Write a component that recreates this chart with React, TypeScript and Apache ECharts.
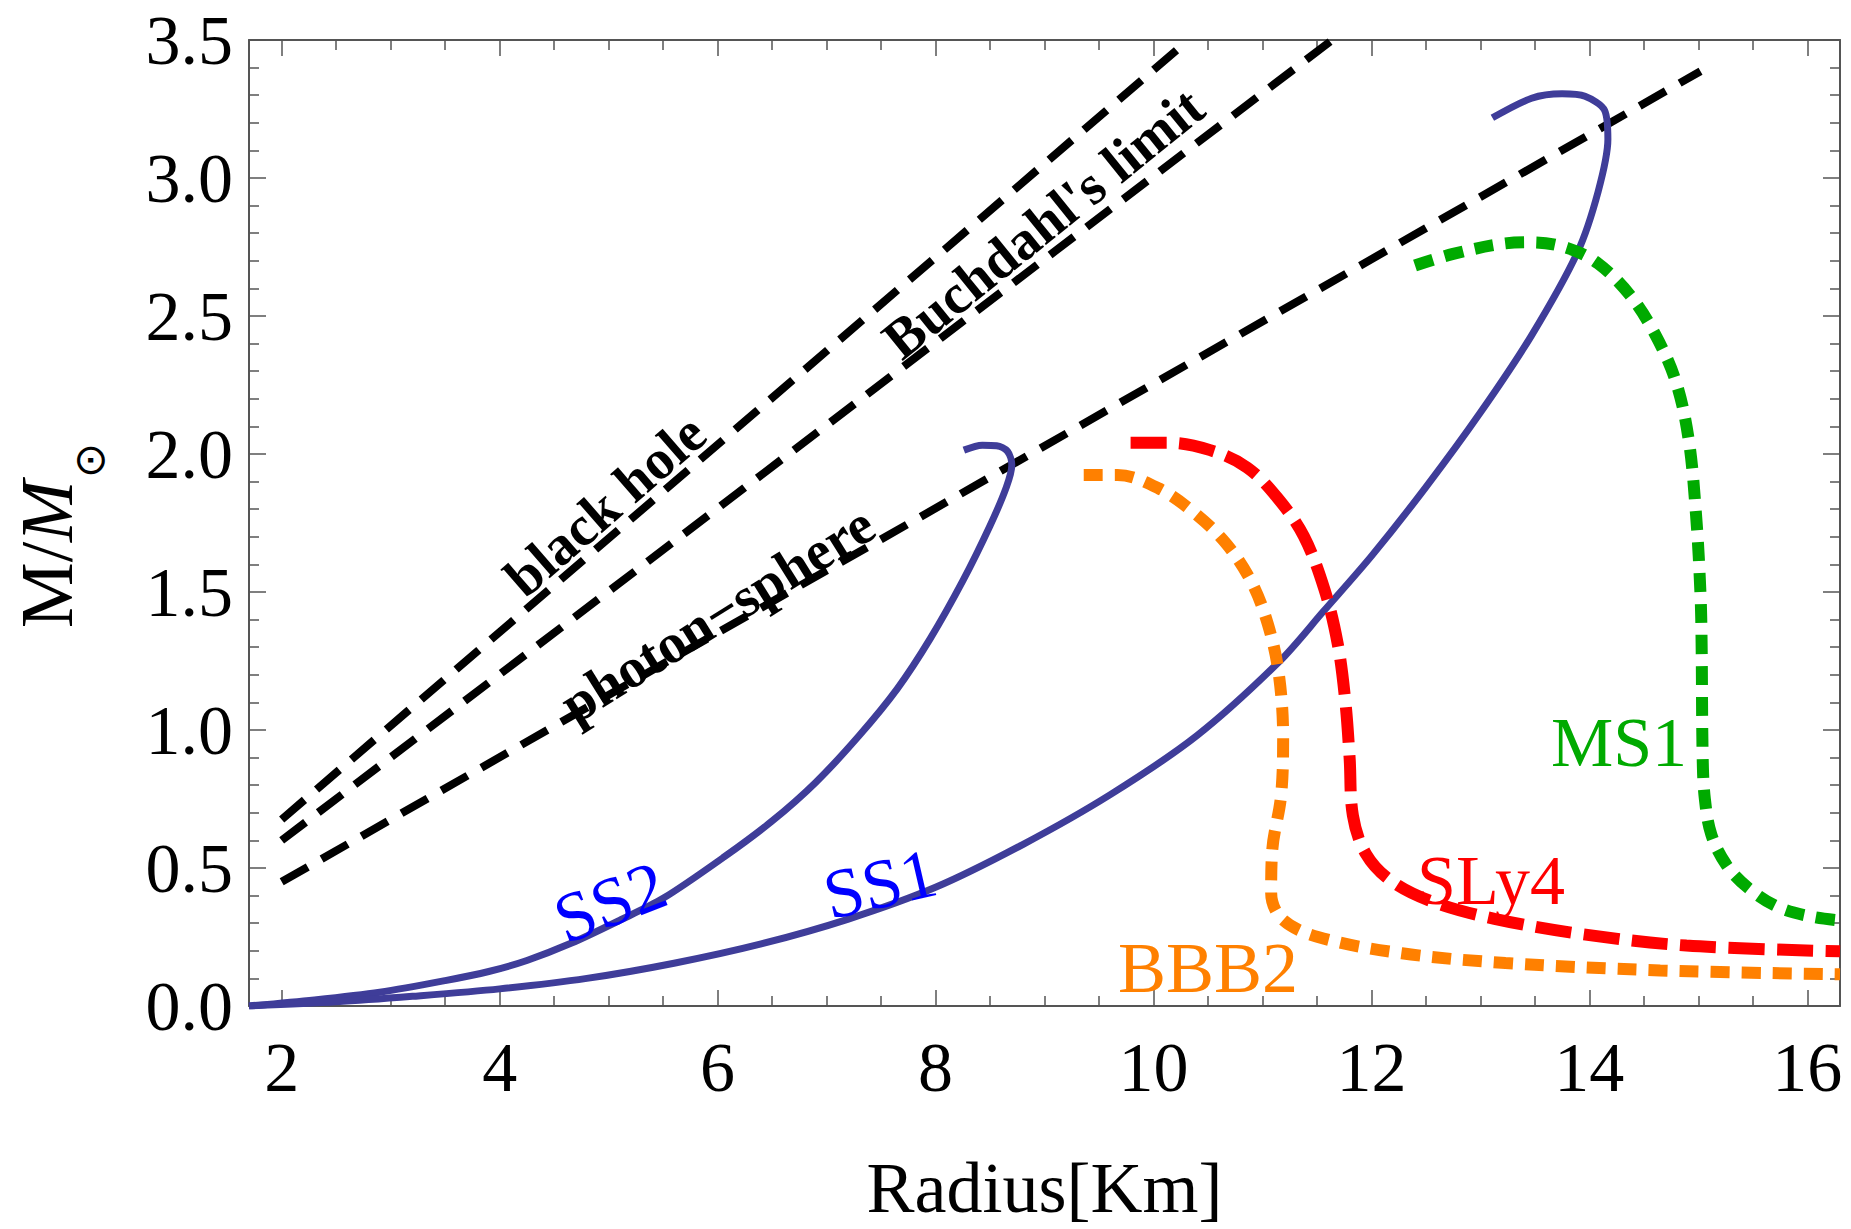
import React, { useEffect, useRef } from "react";
import * as echarts from "echarts";

// ---- axis ranges and ticks ----
const X_MIN = 1.7;
const X_MAX = 16.3;
const Y_MIN = 0;
const Y_MAX = 3.5;
const xMajorTicks = [2, 4, 6, 8, 10, 12, 14, 16];
const xMinorTicks = [2.5, 3, 3.5, 4.5, 5, 5.5, 6.5, 7, 7.5, 8.5, 9, 9.5, 10.5, 11, 11.5, 12.5, 13, 13.5, 14.5, 15, 15.5];
const yMajorTicks = [0, 0.5, 1, 1.5, 2, 2.5, 3, 3.5];
const yMinorTicks = [
  0.1, 0.2, 0.3, 0.4, 0.6, 0.7, 0.8, 0.9, 1.1, 1.2, 1.3, 1.4, 1.6, 1.7, 1.8, 1.9,
  2.1, 2.2, 2.3, 2.4, 2.6, 2.7, 2.8, 2.9, 3.1, 3.2, 3.3, 3.4,
];

// ---- limit lines (radius km, mass Msun) ----
const blackHole = [[2.0, 0.676], [10.32, 3.5]];
const buchdahl = [[2.0, 0.6], [11.64, 3.5]];
const photonSphere = [[2.0, 0.45], [15.02, 3.387]];

// ---- mass-radius curves ----
const ss2 = [
  [1.7, 0.0], [2.3, 0.022], [2.9, 0.05], [3.5, 0.092], [3.9, 0.125], [4.25, 0.165],
  [4.66, 0.228], [5.1, 0.31], [5.5, 0.39], [6.06, 0.54], [6.5, 0.67], [6.9, 0.81],
  [7.3, 0.98], [7.65, 1.15], [7.95, 1.33], [8.25, 1.54], [8.5, 1.74], [8.65, 1.88],
  [8.7, 1.96], [8.66, 2.01], [8.56, 2.03], [8.43, 2.032], [8.26, 2.014],
];
const ss1 = [
  [1.7, 0.0], [2.5, 0.015], [3.2, 0.035], [4.0, 0.062], [4.8, 0.1], [5.6, 0.155],
  [6.4, 0.225], [7.2, 0.315], [8.0, 0.43], [8.8, 0.585], [9.6, 0.765], [10.4, 0.98],
  [11.16, 1.25], [11.56, 1.43], [12.0, 1.63], [12.5, 1.88], [13.0, 2.15], [13.47, 2.43],
  [13.89, 2.73], [14.08, 2.95], [14.17, 3.14], [14.14, 3.245], [13.96, 3.296], [13.75, 3.305],
  [13.47, 3.289], [13.11, 3.218],
];
const sly4 = [
  [9.79, 2.041], [10.14, 2.041], [10.52, 2.014], [10.86, 1.951], [11.14, 1.84], [11.38, 1.702],
  [11.57, 1.508], [11.69, 1.314], [11.76, 1.106], [11.8, 0.898], [11.83, 0.69], [11.95, 0.551],
  [12.18, 0.454], [12.56, 0.378], [13.13, 0.316], [13.94, 0.26], [14.89, 0.219], [16.3, 0.198],
];
const bbb2 = [
  [9.36, 1.924], [9.67, 1.924], [10.05, 1.875], [10.38, 1.785], [10.67, 1.674], [10.9, 1.536],
  [11.05, 1.383], [11.15, 1.203], [11.19, 0.967], [11.17, 0.759], [11.09, 0.565], [11.08, 0.41],
  [11.18, 0.315], [11.51, 0.25], [12.28, 0.191], [13.23, 0.156], [14.65, 0.129], [16.3, 0.115],
];
const ms1 = [
  [12.4, 2.683], [12.75, 2.725], [13.23, 2.763], [13.47, 2.767], [13.8, 2.746], [14.08, 2.69],
  [14.37, 2.577], [14.6, 2.436], [14.79, 2.267], [14.91, 2.056], [14.98, 1.774], [15.02, 1.49],
  [15.03, 1.314], [15.04, 0.898], [15.06, 0.75], [15.12, 0.62], [15.26, 0.51], [15.46, 0.427],
  [15.74, 0.357], [16.05, 0.323], [16.3, 0.31],
];

const SERIF = '"Liberation Serif", "Times New Roman", serif';
const FRAME = "#555555";

function xAxisDef(position: "bottom" | "top", ticks: number[], len: number, main: boolean, labels: boolean) {
  return {
    type: "value",
    position,
    min: X_MIN,
    max: X_MAX,
    name: main && labels ? "Radius[Km]" : "",
    nameLocation: "middle",
    nameGap: 146,
    nameTextStyle: { fontFamily: SERIF, fontSize: 72, color: "#000", lineHeight: 72 },
    axisLine: { show: main, onZero: false, lineStyle: { color: FRAME, width: 2 } },
    axisTick: { show: true, inside: true, length: len, customValues: ticks, lineStyle: { color: FRAME, width: 1.5 } },
    axisLabel: {
      show: labels,
      customValues: ticks,
      margin: 26,
      fontFamily: SERIF,
      fontSize: 70,
      lineHeight: 70,
      color: "#000",
      formatter: (v: number) => String(v),
    },
    splitLine: { show: false },
  };
}

function yAxisDef(position: "left" | "right", ticks: number[], len: number, main: boolean, labels: boolean) {
  return {
    type: "value",
    position,
    min: Y_MIN,
    max: Y_MAX,
    axisLine: { show: main, onZero: false, lineStyle: { color: FRAME, width: 2 } },
    axisTick: { show: true, inside: true, length: len, customValues: ticks, lineStyle: { color: FRAME, width: 1.5 } },
    axisLabel: {
      show: labels,
      customValues: ticks,
      margin: 16,
      fontFamily: SERIF,
      fontSize: 70,
      lineHeight: 70,
      color: "#000",
      formatter: (v: number) => v.toFixed(1),
    },
    splitLine: { show: false },
  };
}

function curve(name: string, data: number[][], color: string, width: number, dash: number[] | "solid", smooth: number) {
  return {
    name,
    type: "line",
    data,
    xAxisIndex: 0,
    yAxisIndex: 0,
    showSymbol: false,
    symbol: "none",
    smooth,
    clip: true,
    lineStyle: { color, width, type: dash, cap: "butt" },
  };
}

function label(text: string, x: number, y: number, rotDeg: number, font: string, fill: string) {
  return {
    type: "text",
    x,
    y,
    rotation: (rotDeg * Math.PI) / 180,
    z: 100,
    style: {
      text,
      font,
      fill,
      align: "center",
      verticalAlign: "middle",
      textAlign: "center",
      textVerticalAlign: "middle",
    },
  };
}

export default function App() {
  const ref = useRef<HTMLDivElement>(null);
  useEffect(() => {
    if (!ref.current) return;
    const chart = echarts.init(ref.current, undefined, { renderer: "svg" });
    const option: any = {
      animation: false,
      backgroundColor: "#ffffff",
      grid: { left: 249, right: 11, top: 40, bottom: 207, containLabel: false },
      xAxis: [
        xAxisDef("bottom", xMajorTicks, 16, true, true),
        xAxisDef("bottom", xMinorTicks, 10, false, false),
        xAxisDef("top", xMajorTicks, 16, true, false),
        xAxisDef("top", xMinorTicks, 10, false, false),
      ],
      yAxis: [
        yAxisDef("left", yMajorTicks, 17, true, true),
        yAxisDef("left", yMinorTicks, 10, false, false),
        yAxisDef("right", yMajorTicks, 17, true, false),
        yAxisDef("right", yMinorTicks, 10, false, false),
      ],
      series: [
        curve("black hole", blackHole, "#000000", 8, [30, 16], 0),
        curve("Buchdahl's limit", buchdahl, "#000000", 8, [30, 16], 0),
        curve("photon−sphere", photonSphere, "#000000", 8, [30, 16], 0),
        curve("SS2", ss2, "#3f3d99", 7, "solid", 0.3),
        curve("SS1", ss1, "#3f3d99", 7, "solid", 0.3),
        curve("BBB2", bbb2, "#ff8000", 12, [19, 12], 0.35),
        curve("SLy4", sly4, "#ff0000", 12, [36, 12.5], 0.35),
        curve("MS1", ms1, "#00aa00", 12, [19, 12], 0.35),
      ],
      graphic: [
        label("black hole", 605, 505, 41, `bold 56px ${SERIF}`, "#000"),
        label("Buchdahl's limit", 1043, 223, 39, `bold 56px ${SERIF}`, "#000"),
        label("photon−sphere", 717, 614, 32, `bold 56px ${SERIF}`, "#000"),
        label("SS2", 610, 902, 21, `70px ${SERIF}`, "#0000ff"),
        label("SS1", 880, 884, 13, `70px ${SERIF}`, "#0000ff"),
        label("SLy4", 1491, 880, 0, `70px ${SERIF}`, "#ff0000"),
        label("BBB2", 1208, 968, 0, `72px ${SERIF}`, "#ff8000"),
        label("MS1", 1619, 742, 0, `70px ${SERIF}`, "#00aa00"),
        {
          type: "group",
          x: 47,
          y: 628,
          rotation: Math.PI / 2,
          children: [
            {
              type: "text",
              x: 0,
              y: 0,
              style: { text: "M/", font: `74px ${SERIF}`, fill: "#000", align: "left", verticalAlign: "middle", textAlign: "left", textVerticalAlign: "middle" },
            },
            {
              type: "text",
              x: 86,
              y: 0,
              style: { text: "M", font: `italic 74px ${SERIF}`, fill: "#000", align: "left", verticalAlign: "middle", textAlign: "left", textVerticalAlign: "middle" },
            },
            {
              type: "text",
              x: 150,
              y: 42,
              style: { text: "⊙", font: `42px "DejaVu Sans", sans-serif`, fill: "#000", align: "left", verticalAlign: "middle", textAlign: "left", textVerticalAlign: "middle" },
            },
          ],
        },
      ],
    };
    chart.setOption(option);
    return () => chart.dispose();
  }, []);
  return <div ref={ref} style={{ position: "fixed", left: 0, top: 0, width: 1851, height: 1229, background: "#fff" }} />;
}
